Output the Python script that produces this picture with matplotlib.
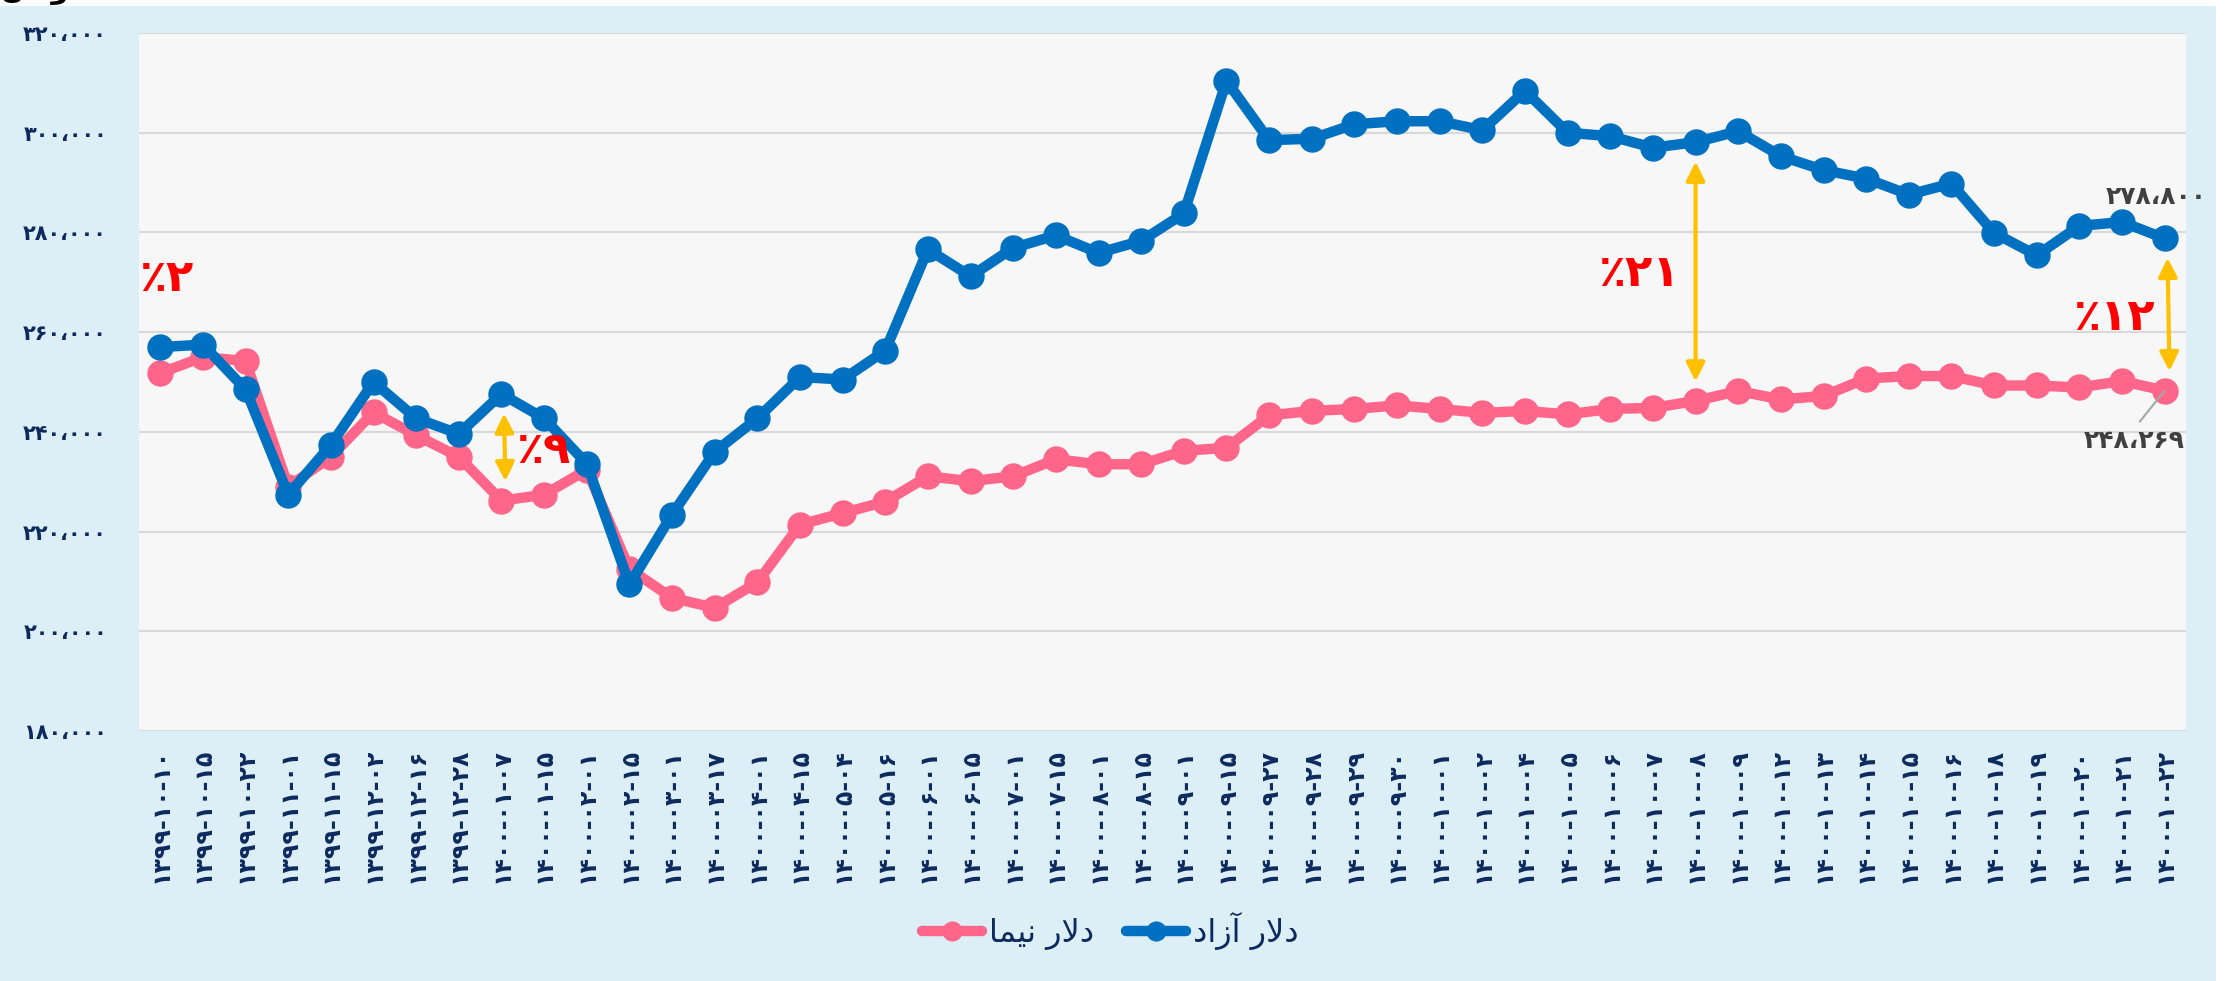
import matplotlib
matplotlib.use("Agg")
import matplotlib.pyplot as plt
from matplotlib.patches import Rectangle

# dates (jalali) of each observation
dates = [
    "1399-10-10", "1399-10-15", "1399-10-22", "1399-11-01", "1399-11-15", "1399-12-02",
    "1399-12-16", "1399-12-28", "1400-01-07", "1400-01-15", "1400-02-01", "1400-02-15",
    "1400-03-01", "1400-03-17", "1400-04-01", "1400-04-15", "1400-05-04", "1400-05-16",
    "1400-06-01", "1400-06-15", "1400-07-01", "1400-07-15", "1400-08-01", "1400-08-15",
    "1400-09-01", "1400-09-15", "1400-09-27", "1400-09-28", "1400-09-29", "1400-09-30",
    "1400-10-01", "1400-10-02", "1400-10-04", "1400-10-05", "1400-10-06", "1400-10-07",
    "1400-10-08", "1400-10-09", "1400-10-12", "1400-10-13", "1400-10-14", "1400-10-15",
    "1400-10-16", "1400-10-18", "1400-10-19", "1400-10-20", "1400-10-21", "1400-10-22",
]

# free market dollar
azad = [
    257000, 257500, 248500, 227400, 237400, 250000, 242700, 239600, 247600, 242700,
    233600, 209400, 223400, 236000, 242700, 251000, 250500, 256300, 276600, 271200,
    276900, 279400, 275900, 278300, 283800, 310400, 298500, 298800, 301700, 302300,
    302300, 300500, 308400, 300000, 299300, 297000, 298100, 300300, 295300, 292500,
    290800, 287600, 289800, 279900, 275400, 281300, 282100, 278800,
]

# nima dollar
nima = [
    251800, 255000, 254200, 229000, 235000, 243900, 239300, 235000, 226200, 227400,
    232400, 212500, 206700, 204700, 209800, 221400, 223700, 226000, 231100, 230100,
    231100, 234500, 233500, 233500, 236200, 236800, 243300, 244200, 244600, 245300,
    244600, 243800, 244200, 243500, 244600, 244800, 246200, 248200, 246500, 247200,
    250700, 251200, 251200, 249300, 249300, 248900, 250200, 248269,
]

# gap annotations: point index, label, label position (index, value)
gap_idx = [8, 36, 47]
gap_dx = [0.1, 0.0, 0.12]
gap_text = ["٪۹", "٪۲۱", "٪۱۲"]
gap_text_pos = [(8.97, 236300), (34.67, 271700), (45.82, 262900)]
first_gap_text = "٪۲"
first_gap_pos = (-0.5, 270700)

FA = str.maketrans("0123456789,", "۰۱۲۳۴۵۶۷۸۹،")

RIGHT = {"ا": ("\uFE8D", "\uFE8E"), "آ": ("\uFE81", "\uFE82"), "د": ("\uFEA9", "\uFEAA"),
         "ر": ("\uFEAD", "\uFEAE"), "ز": ("\uFEAF", "\uFEB0"), "و": ("\uFEED", "\uFEEE")}
DUAL = {"ل": ("\uFEDD", "\uFEDE", "\uFEDF", "\uFEE0"), "ن": ("\uFEE5", "\uFEE6", "\uFEE7", "\uFEE8"),
        "م": ("\uFEE1", "\uFEE2", "\uFEE3", "\uFEE4"), "ی": ("\uFBFC", "\uFBFD", "\uFEF3", "\uFEF4"),
        "ت": ("\uFE95", "\uFE96", "\uFE97", "\uFE98")}


def shape_fa(text):
    # minimal arabic joining + visual reordering, matplotlib does neither
    out = []
    i = 0
    while i < len(text):
        c = text[i]
        prev_joins = i > 0 and text[i - 1] in DUAL
        if c == "ل" and i + 1 < len(text) and text[i + 1] == "ا":
            out.append("\uFEFC" if prev_joins else "\uFEFB")
            i += 2
            continue
        nxt = i + 1 < len(text) and (text[i + 1] in DUAL or text[i + 1] in RIGHT)
        if c in DUAL:
            f = DUAL[c]
            if prev_joins and nxt:
                out.append(f[3])
            elif prev_joins:
                out.append(f[1])
            elif nxt:
                out.append(f[2])
            else:
                out.append(f[0])
        elif c in RIGHT:
            out.append(RIGHT[c][1] if prev_joins else RIGHT[c][0])
        else:
            out.append(c)
        i += 1
    return "".join(reversed(out))


def fa_num(v):
    return "{:,}".format(int(v)).translate(FA)


NAVY = "#0D2A5E"
BLUE = "#0070C0"
PINK = "#FF6689"
GOLD = "#FFC000"

plt.rcParams["font.family"] = ["DejaVu Sans"]

W, H = 2228, 981
fig = plt.figure(figsize=(W / 100, H / 100), dpi=100, facecolor="white")
fig.patches.append(Rectangle((0, 0), 2216 / W, 1 - 6 / H, transform=fig.transFigure,
                             facecolor="#DCEFF7", edgecolor="none", zorder=-10))
fig.text(0.0, 1 - 5 / H, shape_fa("تومان"), fontsize=20, fontweight="bold",
         color="black", va="bottom", ha="left")

ax = fig.add_axes([139 / W, 1 - 731 / H, (2186 - 139) / W, (731 - 33) / H])
ax.set_facecolor("#F7F7F7")

x = list(range(len(dates)))
ax.plot(x, nima, color=PINK, lw=7.5, marker="o", ms=18, solid_capstyle="round",
        label=shape_fa("دلار نیما"), zorder=3)
ax.plot(x, azad, color=BLUE, lw=7.5, marker="o", ms=18, solid_capstyle="round",
        label=shape_fa("دلار آزاد"), zorder=4)

ax.set_xlim(-0.5, len(dates) - 0.5)
ax.set_ylim(180000, 320000)
yt = list(range(180000, 320001, 20000))
ax.set_yticks(yt)
ax.set_yticklabels([fa_num(v) for v in yt], fontsize=15, fontweight="bold", color=NAVY)
ax.set_xticks(x)
ax.set_xticklabels([d.translate(FA) for d in dates], rotation=90, fontsize=17,
                   fontweight="bold", color=NAVY)
ax.tick_params(axis="y", length=0, pad=23)
ax.tick_params(axis="x", length=0, pad=12)
ax.grid(axis="y", color="#D9D9D9", lw=1.5)
ax.set_axisbelow(True)
for s in ax.spines.values():
    s.set_visible(False)

# gap arrows between the two series
for i, dx in zip(gap_idx, gap_dx):
    ax.annotate("", xy=(i + dx, nima[i]), xytext=(i + dx * 0.5, azad[i]),
                arrowprops=dict(arrowstyle="<|-|>", color=GOLD, lw=3,
                                mutation_scale=28, shrinkA=14, shrinkB=14),
                zorder=5)
for t, (px, py) in zip(gap_text, gap_text_pos):
    ax.text(px, py, t, color="red", fontsize=32, fontweight="bold",
            ha="center", va="center", zorder=6)
ax.text(first_gap_pos[0], first_gap_pos[1], first_gap_text, color="red", fontsize=32,
        fontweight="bold", ha="left", va="center", zorder=6)

# last value labels
ax.annotate(fa_num(azad[-1]), xy=(x[-1], azad[-1]), xytext=(-6, 30),
            textcoords="offset points", ha="center", va="center", fontsize=18,
            fontweight="bold", color="#404040", annotation_clip=False, zorder=6)
ax.annotate(fa_num(nima[-1]), xy=(x[-1], nima[-1]), xytext=(-22, -36),
            textcoords="offset points", ha="center", va="center", fontsize=18,
            fontweight="bold", color="#404040", annotation_clip=False, zorder=6,
            arrowprops=dict(arrowstyle="-", color="#A6A6A6", lw=1.5,
                            shrinkA=4, shrinkB=0, relpos=(0.5, 1.0)))

fig.legend(loc="center", bbox_to_anchor=(1110 / W, 1 - 931 / H), ncol=2, frameon=False,
           fontsize=23, labelcolor=NAVY, handlelength=1.9, handletextpad=0.2,
           columnspacing=1.0, markerscale=0.75)

fig.savefig("out.png", dpi=100, facecolor=fig.get_facecolor())
